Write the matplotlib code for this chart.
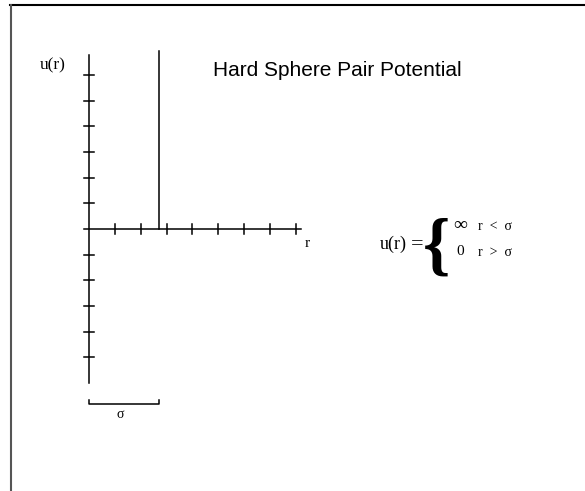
import numpy as np
import matplotlib.pyplot as plt
from matplotlib.lines import Line2D

# chart values (axis units: one tick = 1)
x_ticks = [1, 2, 3, 4, 5, 6, 7, 8]
y_ticks = [-5, -4, -3, -2, -1, 1, 2, 3, 4, 5, 6]
sigma = 2.7
wall_top = 6.93
x_range = [-0.2, 8.2]
y_range = [-6.0, 6.77]
title = "Hard Sphere Pair Potential"

fig = plt.figure(figsize=(5.85, 4.91), dpi=100)
ax = fig.add_axes([0, 0, 1, 1])
ax.set_xlim(-3.461, 19.213)
ax.set_ylim(-10.195, 8.911)
ax.axis("off")

# frame of the picture (top and left only)
fig.add_artist(Line2D([10 / 585, 1], [1 - 5 / 491, 1 - 5 / 491], color="black", lw=1.5))
fig.add_artist(Line2D([11 / 585, 11 / 585], [0, 1 - 5 / 491], color="#555555", lw=1.5))

lw = 1.1
# axes
ax.plot(x_range, [0, 0], color="black", lw=lw)
ax.plot([0, 0], y_range, color="black", lw=lw)
t = 0.19
for xt in x_ticks:
    ax.plot([xt, xt], [-t, t], color="black", lw=lw)
for yt in y_ticks:
    ax.plot([-t, t], [yt, yt], color="black", lw=lw)

# hard wall at r = sigma
ax.plot([sigma, sigma], [0, wall_top], color="black", lw=lw)

# sigma bracket
yb = -6.81
ax.plot([0, 0, sigma, sigma], [yb + 0.16, yb, yb, yb + 0.16], color="black", lw=lw)

serif = "Liberation Serif"
ax.text(sigma / 2 - 0.15, -7.2, "σ", family=serif, fontsize=10, ha="center", va="center")
ax.text(-1.41, 6.38, "u(r)", family=serif, fontsize=12.5, ha="center", va="center")
ax.text(8.43, -0.58, "r", family=serif, fontsize=11, ha="center", va="center")

ax.text(9.63, 6.15, title, family="Liberation Sans", fontsize=15, ha="center", va="center")

# equation
ax.text(12.3, -0.6, "u(r)", family=serif, fontsize=13, ha="right", va="center")
ax.text(12.95, -0.6, "=", family=serif, fontsize=16, ha="right", va="center")
ax.text(13.45, -0.8, "{", family=serif, fontsize=50, fontweight="bold", ha="center", va="center")
ax.text(14.37, 0.12, "∞", family=serif, fontsize=14, ha="center", va="center")
ax.text(14.37, -0.88, "0", family=serif, fontsize=11, ha="center", va="center")
ax.text(15.05, 0.08, "r  <  σ", family=serif, fontsize=10, ha="left", va="center")
ax.text(15.05, -0.9, "r  >  σ", family=serif, fontsize=10, ha="left", va="center")

fig.savefig("out.png", dpi=100)
